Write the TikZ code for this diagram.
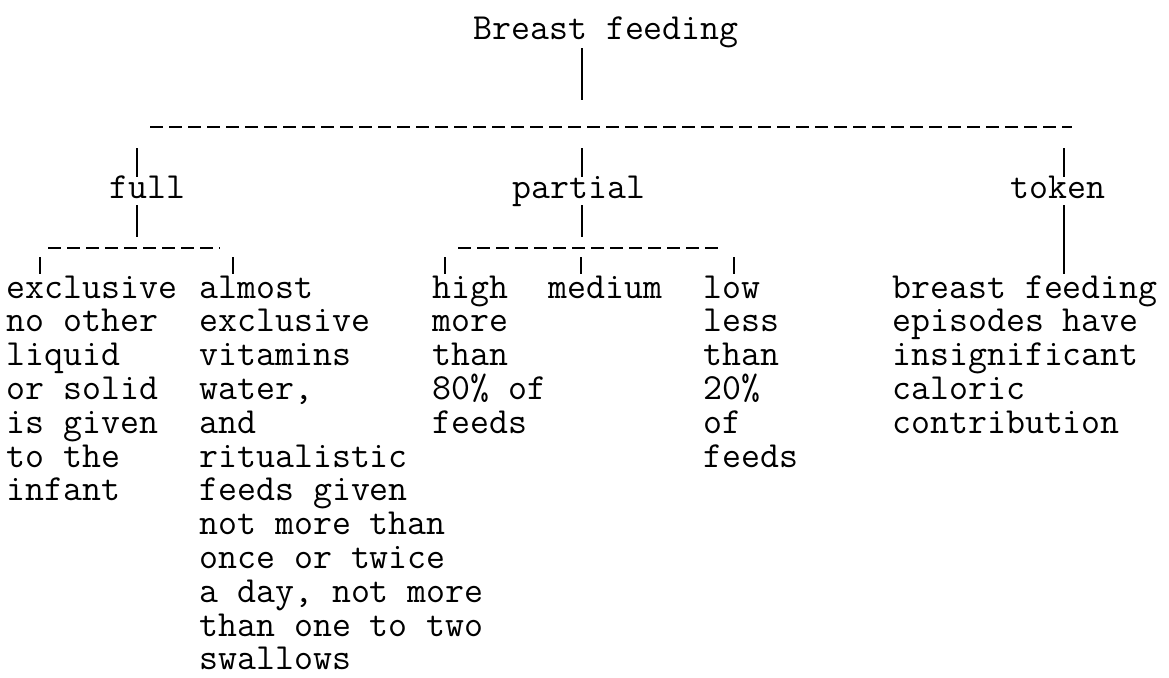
\documentclass[tikz,border=0pt]{standalone}
\usetikzlibrary{positioning}
\tikzset{
	lbl/.style ={anchor=base west, inner sep=0pt, align=left, font=\ttfamily\fontsize{18.4}{16.9}\selectfont},
	bar/.style ={line width=0.8pt},
	hyph/.style={line width=1.3pt, dash pattern=on 6.5pt off 3pt},
}
% baseline of the n-th text row below the tree (base anchor = last line)
\newcommand{\rowy}[1]{298+#1*33.8}
\begin{document}
\begin{tikzpicture}[x=0.5pt, y=-0.5pt]
	\useasboundingbox[fill=white] (0,0) rectangle (1169,677);
	% labels
	\node[lbl] (root) at (473,39) {Breast feeding};
	\node[lbl] (full) at (109,198) {full};
	\node[lbl] (partial) at (512,198) {partial};
	\node[lbl] (token) at (1010,198) {token};
	\node[lbl] (excl) at (6,{\rowy{6}}) {exclusive\\no other\\liquid\\or solid\\is given\\to the\\infant};
	\node[lbl] (almost) at (199,{\rowy{11}}) {almost\\exclusive\\vitamins\\water,\\and\\ritualistic\\feeds given\\not more than\\once or twice\\a day, not more\\than one to two\\swallows};
	\node[lbl] (high) at (432,{\rowy{4}}) {high\\more\\than\\80\% of\\feeds};
	\node[lbl] (medium) at (548,{\rowy{0}}) {medium};
	\node[lbl] (low) at (703,{\rowy{5}}) {low\\less\\than\\20\%\\of\\feeds};
	\node[lbl] (tokdesc) at (892,{\rowy{4}}) {breast feeding\\episodes have\\insignificant\\caloric\\contribution};
	% dashed rules
	\coordinate (top-l) at (150,127);  \coordinate (top-r) at (1072,127);
	\coordinate (full-l) at (48,248);  \coordinate (full-r) at (220,248);
	\coordinate (part-l) at (458,248); \coordinate (part-r) at (722,248);
	\draw[hyph] (top-l) -- (top-r);
	\draw[hyph] (full-l) -- (full-r);
	\draw[hyph] (part-l) -- (part-r);
	% vertical bars
	\foreach \n/\x/\ya/\yb in {r/582/48/100, a/137/148/177, b/582/148/177, c/1064/148/177,
			d/137/205/237, e/582/205/237, f/1064/205/274, g/40/257/274, h/233/257/274,
			i/445/257/274, j/581/257/274, k/734/257/274}{
		\coordinate (\n-t) at (\x,\ya); \coordinate (\n-b) at (\x,\yb);
		\draw[bar] (\n-t) -- (\n-b);
	}
\end{tikzpicture}
\end{document}
